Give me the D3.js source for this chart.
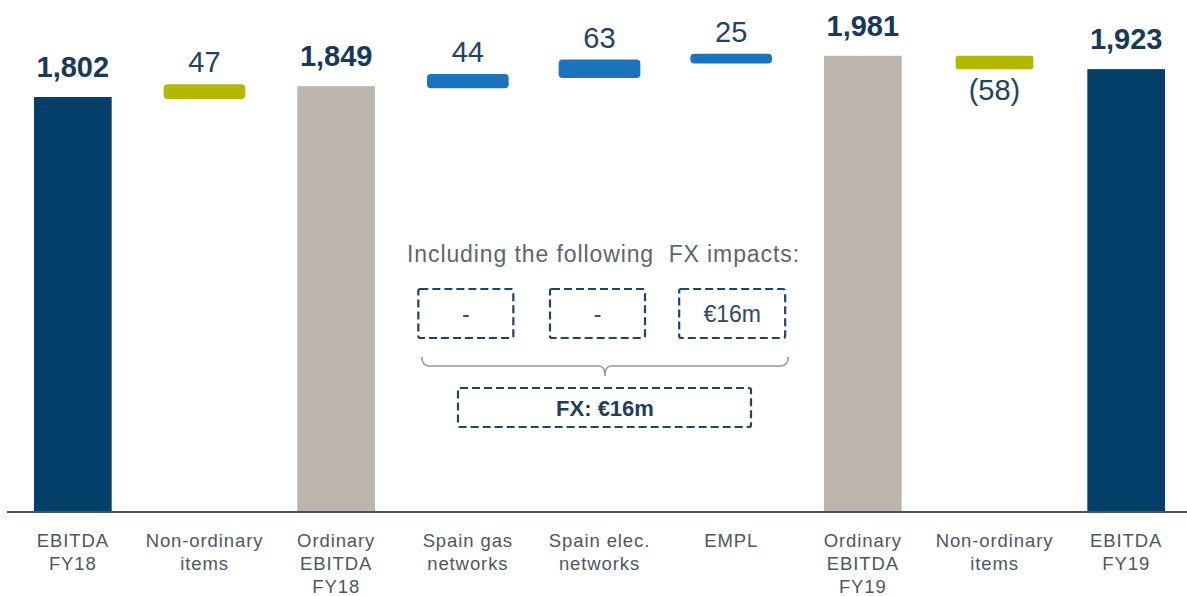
<!DOCTYPE html>
<html><head><meta charset="utf-8">
<script src="https://cdn.jsdelivr.net/npm/d3@7"></script>
<style>
html,body{margin:0;padding:0;background:#fff;}
svg{display:block;font-family:"Liberation Sans",Arial,sans-serif;}
</style></head>
<body>
<svg id="chart" width="1187" height="596"></svg>
<script>
// ---- data ----
const categories = ["EBITDA FY18","Non-ordinary items FY18","Ordinary EBITDA FY18","Spain gas networks","Spain elec. networks","EMPL","Ordinary EBITDA FY19","Non-ordinary items FY19","EBITDA FY19"];
const categoryLabels = [["EBITDA","FY18"],["Non-ordinary","items"],["Ordinary","EBITDA","FY18"],["Spain gas","networks"],["Spain elec.","networks"],["EMPL"],["Ordinary","EBITDA","FY19"],["Non-ordinary","items"],["EBITDA","FY19"]];
const values = [1802, 47, 1849, 44, 63, 25, 1981, -58, 1923];
const kinds = ["total","nonord","subtotal","delta","delta","delta","subtotal","nonord","total"];
const valueLabels = ["1,802","47","1,849","44","63","25","1,981","(58)","1,923"];
const fxLabels = ["-","-","€16m"];
const fxTotalLabel = "FX: €16m";
const fxTitle = "Including the following  FX impacts:";

const colors = {total:"#033f68", subtotal:"#bcb5ab", delta:"#1b72bd", nonord:"#b4b700"};

// ---- compute waterfall ----
let running = 0;
const bars = values.map((v,i)=>{
  const k = kinds[i];
  let y0,y1;
  if(k==="total"||k==="subtotal"){ y0=0; y1=v; running=v; }
  else { y0=running; y1=running+v; running=y1; }
  return {cat:categories[i], v, k, y0, y1, label:valueLabels[i], lines:categoryLabels[i]};
});

const svg = d3.select("#chart");
const x = d3.scaleBand().domain(categories).range([7,1192]).paddingInner(0.41).paddingOuter(0.205);
const y = d3.scaleLinear().domain([0,2200]).range([512, 512-2200*0.2303]);

// bars
svg.append("g").selectAll("rect").data(bars).join("rect")
  .attr("x", d=>x(d.cat))
  .attr("width", x.bandwidth())
  .attr("y", d=>y(Math.max(d.y0,d.y1)))
  .attr("height", d=>Math.abs(y(d.y0)-y(d.y1)))
  .attr("fill", d=>colors[d.k])
  .attr("stroke", d=>(d.k==="delta"||d.k==="nonord")&&d.v>0 ? colors[d.k] : "none")
  .attr("stroke-width", 4)
  .attr("stroke-linejoin","round")
  .attr("rx", d=>(d.k==="delta"||d.k==="nonord")?2:0);

// axis baseline
svg.append("line").attr("x1",7).attr("x2",1187).attr("y1",y(0)).attr("y2",y(0))
  .attr("stroke","#46535d").attr("stroke-width",2);

// value labels
svg.append("g").selectAll("text").data(bars).join("text")
  .attr("x", d=>x(d.cat)+x.bandwidth()/2)
  .attr("y", d=>{
    if(d.k==="total"||d.k==="subtotal") return y(d.y1)-20;
    if(d.v<0) return y(d.y1)+31;
    return y(d.y1)-14;
  })
  .attr("text-anchor","middle")
  .attr("font-size", 29)
  .attr("font-weight", d=>(d.k==="total"||d.k==="subtotal")?"bold":"normal")
  .attr("fill", d=>(d.k==="total"||d.k==="subtotal")?"#17395a":"#244362")
  .text(d=>d.label);

// category labels
const cl = svg.append("g").selectAll("text").data(bars).join("text")
  .attr("x", d=>x(d.cat)+x.bandwidth()/2)
  .attr("y", 547)
  .attr("text-anchor","middle")
  .attr("font-size", 18.5)
  .attr("letter-spacing", 0.9)
  .attr("fill", "#4c5762");
cl.selectAll("tspan").data(d=>d.lines.map(l=>({l, cx:x(d.cat)+x.bandwidth()/2}))).join("tspan")
  .attr("x", t=>t.cx)
  .attr("dy", (t,i)=>i===0?0:23)
  .text(t=>t.l);

// FX annotation
const fxCats = ["Spain gas networks","Spain elec. networks","EMPL"];
const fxWidths = [95,95,106];
const cx = c=>x(c)+x.bandwidth()/2;
const midX = (cx(fxCats[0])+cx(fxCats[2]))/2;
const ann = svg.append("g");
ann.append("text").attr("x", midX+4).attr("y", 262).attr("text-anchor","middle")
  .attr("font-size", 23).attr("letter-spacing", 0.9).attr("fill","#5b6670")
  .attr("xml:space","preserve").text(fxTitle);

const boxG = ann.selectAll("g.fx").data(fxCats.map((c,i)=>({c, w:fxWidths[i], t:fxLabels[i]}))).join("g").attr("class","fx");
boxG.append("rect")
  .attr("x", d=>cx(d.c)-d.w/2 + (d.c==="EMPL"?1:-2))
  .attr("y", 289).attr("width", d=>d.w).attr("height", 49)
  .attr("rx",2).attr("fill","none").attr("stroke","#1f4563").attr("stroke-width",2.2)
  .attr("stroke-dasharray","8,4");
boxG.append("text")
  .attr("x", d=>cx(d.c) + (d.c==="EMPL"?1:-2))
  .attr("y", 322).attr("text-anchor","middle")
  .attr("font-size", 23).attr("fill","#33495d").text(d=>d.t);

// brace
const bx0 = cx(fxCats[0])-46, bx1 = cx(fxCats[2])+57, bm = (bx0+bx1)/2;
const p = d3.path();
p.moveTo(bx0, 357);
p.quadraticCurveTo(bx0, 366, bx0+8, 366);
p.lineTo(bm-6, 366);
p.quadraticCurveTo(bm, 366, bm, 376);
p.quadraticCurveTo(bm, 366, bm+6, 366);
p.lineTo(bx1-8, 366);
p.quadraticCurveTo(bx1, 366, bx1, 357);
ann.append("path").attr("d", p.toString()).attr("fill","none")
  .attr("stroke","#8f9aa2").attr("stroke-width",1.6);

ann.append("rect").attr("x", bm-147).attr("y", 388).attr("width", 293).attr("height", 39)
  .attr("rx",2).attr("fill","none").attr("stroke","#1f4563").attr("stroke-width",2.2)
  .attr("stroke-dasharray","8,4");
ann.append("text").attr("x", bm).attr("y", 416).attr("text-anchor","middle")
  .attr("font-size", 22).attr("font-weight","bold").attr("fill","#1f3e5a").text(fxTotalLabel);
</script>
</body></html>
